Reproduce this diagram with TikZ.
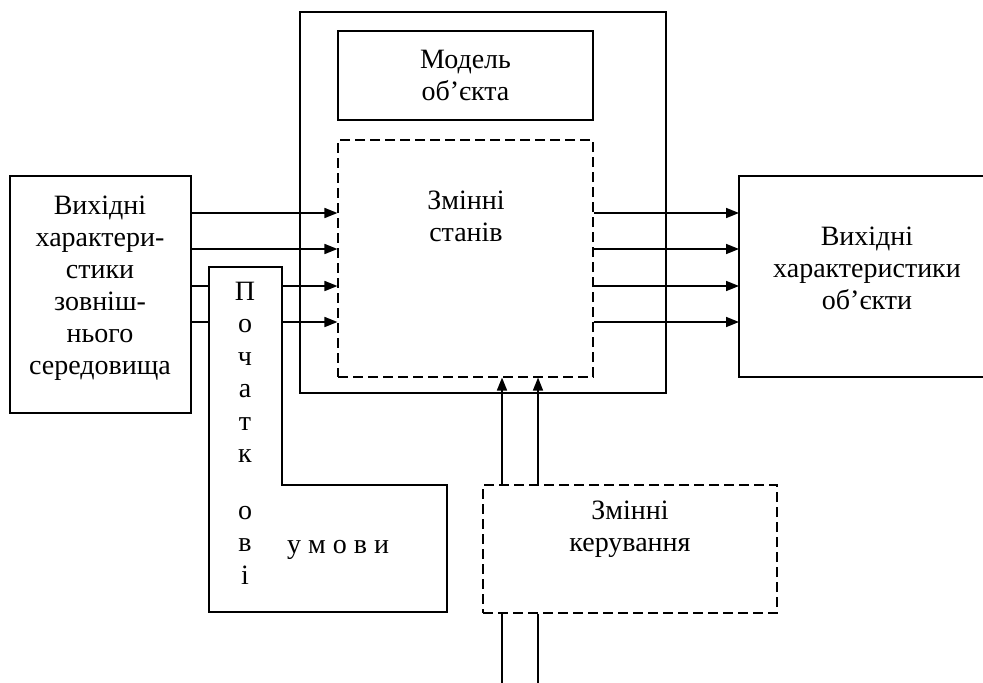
\documentclass[tikz,border=0pt]{standalone}
\usepackage{fontspec}
\setmainfont{Liberation Serif}
\usetikzlibrary{arrows.meta}
\begin{document}
\begin{tikzpicture}[x=1pt,y=-1pt,
  box/.style={draw, line width=1.1pt, inner sep=0pt},
  dbox/.style={draw, line width=1.1pt, dash pattern=on 10pt off 5pt, inner sep=0pt},
  lbl/.style={font=\fontsize{28}{32}\selectfont, align=center, inner sep=0pt},
  arr/.style={line width=1.7pt, -{Triangle[length=13pt,width=10pt]}},
  ln/.style={line width=1.1pt}]
\useasboundingbox (0,0) rectangle (983,683);

% boxes
\node[box, minimum width=181pt, minimum height=237pt] (left) at (100.5,294.5) {};
\node[lbl] (lefttxt) at (100,288) {Вихідні\\характери-\\стики\\зовніш-\\нього\\середовища};

\node[box, minimum width=366pt, minimum height=381pt] (outer) at (483,202.5) {};
\node[box, lbl, minimum width=255pt, minimum height=89pt] (model) at (465.5,75.5) {Модель\\об’єкта};
\node[dbox, minimum width=255pt, minimum height=237pt] (state) at (465.5,258.5) {};
\node[lbl] (statetxt) at (466,216) {Змінні\\станів};

\coordinate (rtop) at (983,176);
\coordinate (rl) at (739,176);
\coordinate (rbot) at (983,377);
\draw[ln] (rtop) -- (rl) |- (rbot);
\node[lbl] (righttxt) at (867,268) {Вихідні\\характеристики\\об’єкти};

\node[dbox, minimum width=294pt, minimum height=128pt] (ctrl) at (630,549) {};
\node[lbl] (ctrltxt) at (630,529) {Змінні\\керування};

% arrows in and out of the state box
\foreach \yy in {213,249,286,322} {
  \draw[arr] (left.east |- 0,\yy) -- (state.west |- 0,\yy);
  \draw[arr] (state.east |- 0,\yy) -- (rl |- 0,\yy);
}

% initial conditions (L shape), drawn over the lower arrows
\draw[ln, fill=white] (209,267) coordinate (lA) -- (282,267) -- (282,485) -- (447,485) -- (447,612) -- (209,612) -- cycle;
\node[font=\fontsize{28}{32.5}\selectfont, align=center, inner sep=0pt] (vert) at (245,433)
  {П\\о\\ч\\а\\т\\к\\[24pt]о\\в\\і};
\node[font=\fontsize{28}{32}\selectfont, inner sep=0pt, anchor=base west] (umovy) at (287,553) {у м о в и};

% control inputs
\coordinate (b1) at (502,683);
\coordinate (b2) at (538,683);
\draw[arr] (ctrl.north -| b1) -- (state.south -| b1);
\draw[arr, line width=1.3pt] (ctrl.north -| b2) -- (state.south -| b2);
\draw[ln] (ctrl.south -| b1) -- (b1);
\draw[ln] (ctrl.south -| b2) -- (b2);
\end{tikzpicture}
\end{document}
